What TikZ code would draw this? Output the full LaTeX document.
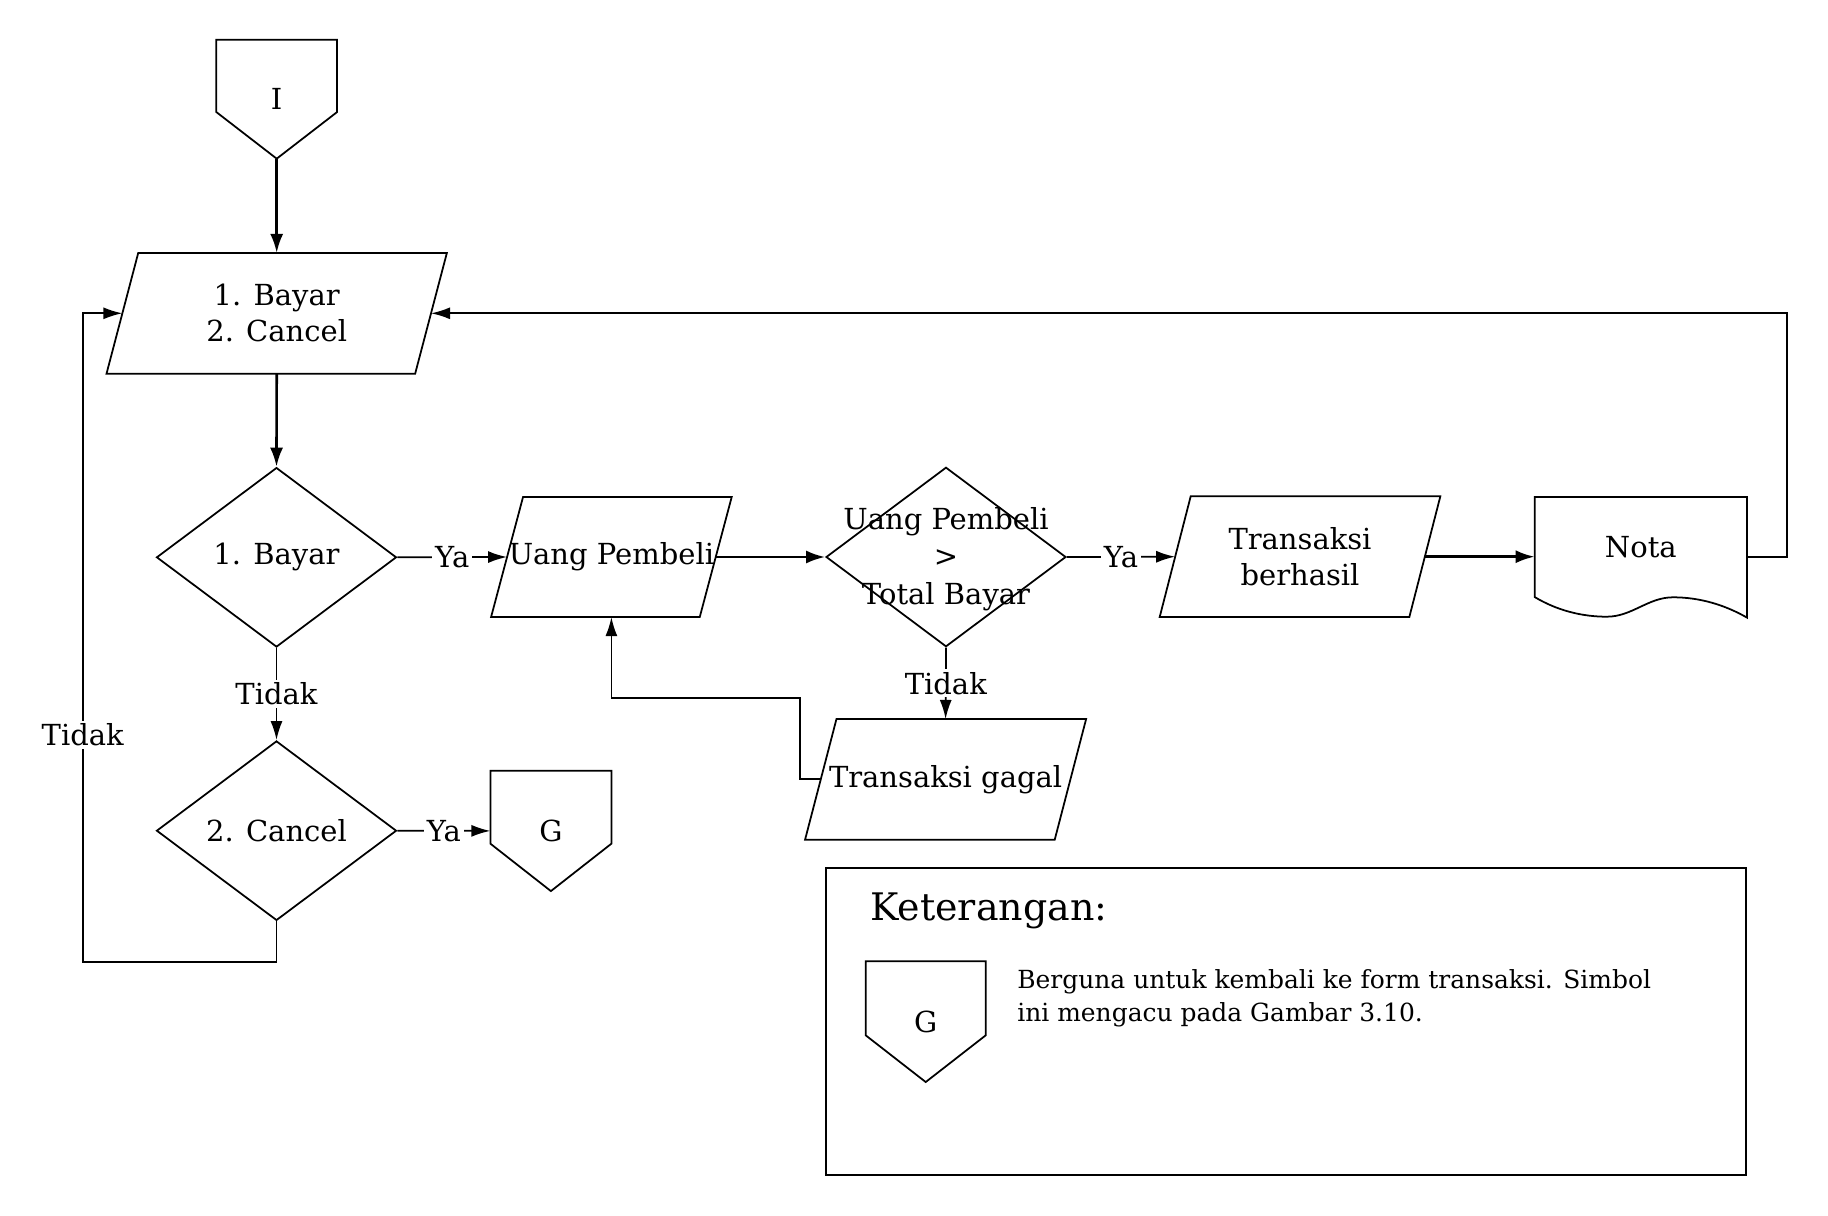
\documentclass[tikz,border=0pt]{standalone}
\usepackage{fontspec}
\setmainfont{DejaVu Serif}
\usetikzlibrary{shapes.geometric,arrows.meta,calc}
\newcommand\paraout[2]{\draw[shp] ($(#1.north west)+(#2,0)$) -- ($(#1.north east)+(#2,0)$) -- ($(#1.south east)+(-#2,0)$) -- ($(#1.south west)+(-#2,0)$) -- cycle;}
\newcommand\offout[2]{\draw[shp] (#1.south) -- ($(#1.south east)+(0,-#2)$) -- (#1.north east) -- (#1.north west) -- ($(#1.south west)+(0,-#2)$) -- cycle;}
\begin{document}
\begin{tikzpicture}[x=0.02cm,y=-0.02cm,
  font=\fontsize{16.5}{20.5}\selectfont,
  shp/.style={line width=1pt, draw=black, line join=miter},
  box/.style={inner sep=0pt, align=center},
  dia/.style={shape=diamond, draw, line width=1pt, inner sep=0pt, minimum width=4.8cm, minimum height=3.59cm, aspect=1.333},
  conn/.style={line width=1pt, -{Latex[length=0.38cm,width=0.24cm]}},
  tconn/.style={line width=1.5pt, -{Latex[length=0.38cm,width=0.26cm]}},
  lbl/.style={fill=white, inner sep=1.5pt},
]
\useasboundingbox (0,0) rectangle (1828,1216);

% nodes
\node[box, minimum width=2.4cm, minimum height=2.366cm] (I) at (276.7,99.2) {I};
\offout{I}{46.6}
\node[box, minimum width=6.16cm, minimum height=2.4cm] (p1) at (276.7,313.3) {1. Bayar\\2. Cancel};
\paraout{p1}{15.85}
\node[dia] (d1) at (276.5,557.3) {1. Bayar};
\node[dia] (d2) at (276.5,830.7) {2. Cancel};
\node[box, minimum width=4.16cm, minimum height=2.39cm] (up) at (611.4,557) {Uang Pembeli};
\paraout{up}{16}
\node[dia] (d3) at (946,557) {};
\node[box, font=\fontsize{16.5}{21.5}\selectfont] (d3t) at (946,559) {Uang Pembeli\\>\\Total Bayar};
\node[box, minimum width=4.98cm, minimum height=2.4cm] (tb) at (1300,556.7) {Transaksi\\berhasil};
\paraout{tb}{15.5}
\node[box, minimum width=4.234cm, minimum height=1.988cm] (nota) at (1640.85,547) {Nota};
\draw[shp] (nota.south west) -- (nota.north west) -- (nota.north east) -- ($(nota.south east)+(0,20.6)$)
  .. controls (1725,605) and (1700,597.3) .. (1673,597.3)
  .. controls (1648,597.3) and (1632,616.7) .. (1606.7,616.7)
  .. controls (1583,616.7) and (1558,611) .. (nota.south west) -- cycle;
\node[box, minimum width=4.98cm, minimum height=2.4cm] (tg) at (945.6,779.3) {Transaksi gagal};
\paraout{tg}{15.7}
\node[box, minimum width=2.406cm, minimum height=2.394cm] (g) at (550.9,830.9) {G};
\offout{g}{47.4}

% legend
\node[draw, line width=1pt, minimum width=18.4cm, minimum height=6.134cm, inner sep=0pt] (leg) at (1286,1021.65) {};
\node[anchor=base west, inner sep=0pt, font=\fontsize{21.6}{26}\selectfont] (ket) at (870,920) {Keterangan:};
\node[box, minimum width=2.386cm, minimum height=2.4cm] (lg) at (925.7,1021.7) {G};
\offout{lg}{46.7}
\node[anchor=west, align=left, inner sep=0pt, font=\fontsize{14.2}{18.9}\selectfont] (desc) at (1017,998.4) {Berguna untuk kembali ke form transaksi. Simbol\\ini mengacu pada Gambar 3.10.};

% connectors
\coordinate (lp) at (82.7,961.7);
\coordinate (lq) at (82.7,313.3);
\coordinate (nr) at (1786.7,556.7);
\coordinate (tgc) at (800,698.3);
\draw[tconn] (I.south) -- (p1.north);
\draw[tconn] (p1.south) -- (d1.north);
\draw[conn] (d1.east) -- node[lbl]{Ya} (up.west);
\draw[conn] (d1.south) -- node[lbl]{Tidak} (d2.north);
\draw[conn] (d2.east) -- node[lbl]{Ya} (g.west);
\draw[conn] (d2.south) |- (lp) -- node[lbl,pos=0.35]{Tidak} (lq) -- (p1.west);
\draw[tconn] (up.east) -- (d3.west);
\draw[conn] (d3.east) -- node[lbl]{Ya} (tb.west);
\draw[conn] (d3.south) -- node[lbl]{Tidak} (tg.north);
\draw[tconn] (tb.east) -- (tb.east -| nota.west);
\draw[conn] (nota.east |- nr) -- (nr) |- (p1.east);
\draw[conn] (tg.west) -| (tgc) -| (up.south);
\end{tikzpicture}
\end{document}
